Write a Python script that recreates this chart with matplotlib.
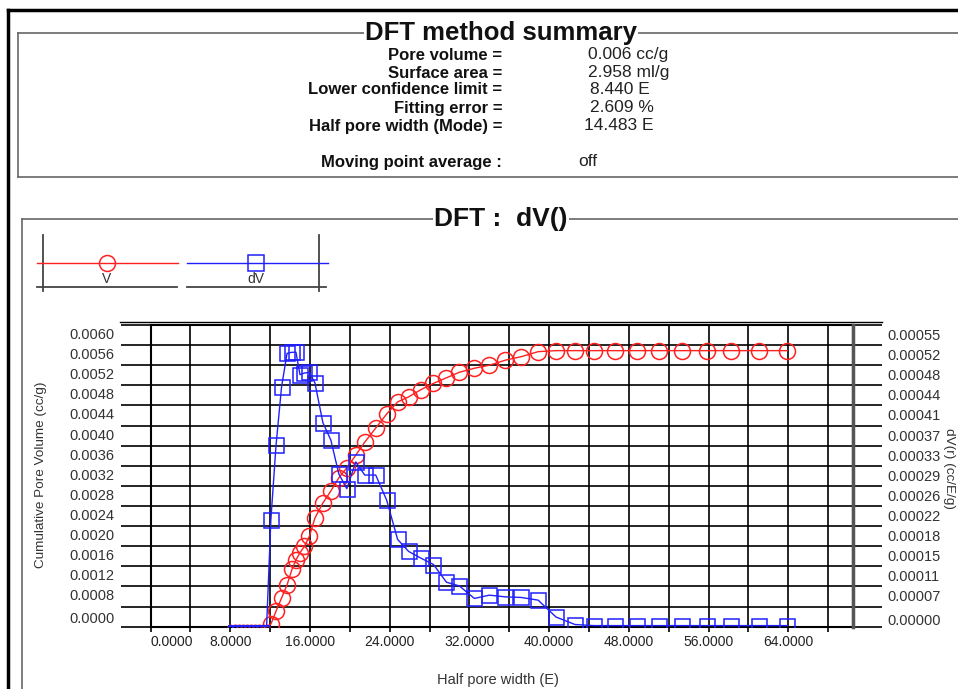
import matplotlib
matplotlib.use("Agg")
import matplotlib.pyplot as plt
import numpy as np
from matplotlib.lines import Line2D
from matplotlib.transforms import ScaledTranslation, blended_transform_factory

plt.rcParams['font.family'] = ['Liberation Sans', 'DejaVu Sans']

W, H = 958, 689

# summary block
summary_labels = ["Pore volume =", "Surface area =", "Lower confidence limit =",
                  "Fitting error =", "Half pore width (Mode) =", "Moving point average :"]
summary_values = ["0.006 cc/g", "2.958 ml/g", "8.440 E", "2.609 %", "14.483 E", "off"]

# densely packed points below the lower confidence limit
cluster_x = [8.0, 8.45, 8.9, 9.3, 9.7, 10.1, 10.5, 10.9, 11.3, 11.65]
cluster_v = [0.0, 0.0, 0.0, 0.0, 0.0, 0.0, 0.0, 0.0, 0.0, 0.0]
cluster_dv = [0.0, 0.0, 0.0, 0.0, 0.0, 0.0, 0.0, 0.0, 0.0, 0.0]

# half pore width (E)
width_x = [12.08, 12.6, 13.15, 13.7, 14.2, 14.6, 15.0, 15.45, 15.95, 16.5,
           17.3, 18.1, 18.9, 19.7, 20.6, 21.5, 22.6, 23.7, 24.8, 25.9,
           27.1, 28.4, 29.7, 31.0, 32.5, 34.0, 35.6, 37.2, 38.9, 40.7,
           42.6, 44.5, 46.6, 48.8, 51.0, 53.3, 55.8, 58.3, 61.1, 63.9]
# cumulative pore volume (cc/g)
cum_v = [0.00005, 0.00031, 0.00057, 0.00083, 0.00114, 0.00133, 0.00147, 0.00160, 0.00180, 0.00216,
         0.00246, 0.00270, 0.00296, 0.00316, 0.00341, 0.00367, 0.00395, 0.00423, 0.00447, 0.00457,
         0.00471, 0.00484, 0.00495, 0.00506, 0.00514, 0.00520, 0.00530, 0.00537, 0.00547, 0.00549,
         0.00549, 0.00549, 0.00549, 0.00549, 0.00549, 0.00549, 0.00549, 0.00549, 0.00549, 0.00549]
# dV(r) (cc/E/g)
dv = [0.000196, 0.000333, 0.000439, 0.000501, 0.000503, 0.000503, 0.000462, 0.000465, 0.000466, 0.000447,
      0.000374, 0.000342, 0.000280, 0.000253, 0.000302, 0.000278, 0.000278, 0.000232, 0.000160, 0.000138,
      0.000126, 0.000114, 0.0000815, 0.0000747, 0.0000518, 0.0000578, 0.0000547, 0.0000536, 0.0000487, 0.0000177,
      0.000004, 0.000002, 0.000002, 0.000002, 0.000002, 0.000002, 0.000002, 0.000002, 0.000002, 0.000002]

x_ticks = [0, 4, 8, 12, 16, 20, 24, 28, 32, 36, 40, 44, 48, 52, 56, 60, 64, 68]
x_labels = ["0.0000", "", "8.0000", "", "16.0000", "", "24.0000", "", "32.0000", "",
            "40.0000", "", "48.0000", "", "56.0000", "", "64.0000", ""]
v_labels = ["0.0000", "", "0.0008", "0.0012", "0.0016", "0.0020", "0.0024", "0.0028",
            "0.0032", "0.0036", "0.0040", "0.0044", "0.0048", "0.0052", "0.0056", "0.0060"]
dv_labels = ["0.00000", "", "0.00007", "0.00011", "0.00015", "0.00018", "0.00022", "0.00026",
             "0.00029", "0.00033", "0.00037", "0.00041", "0.00044", "0.00048", "0.00052", "0.00055"]
v_max = 0.006
dv_max = 0.000553

RED = '#ff2020'
BLUE = '#2020ff'


def fx(x):
    return x / W


def fy(y):
    return 1 - y / H


fig = plt.figure(figsize=(W / 100, H / 100), dpi=100)


def fline(xs, ys, **kw):
    fig.add_artist(Line2D([fx(x) for x in xs], [fy(y) for y in ys],
                          transform=fig.transFigure, **kw))


# outer black frame
fline([8, W], [10, 10], color='black', lw=2.5)
fline([8, 8], [10, H], color='black', lw=2.5)

# summary box
fline([18, W], [33, 33], color='#666666', lw=1.2)
fline([18, 18], [33, 177], color='#666666', lw=1.2)
fline([18, W], [177, 177], color='#666666', lw=1.2)
fig.text(fx(501), fy(33), "DFT method summary", ha='center', va='center',
         fontsize=18.5, fontweight='bold', color='#111111',
         bbox=dict(facecolor='white', edgecolor='none', pad=1))
label_y = [55, 73, 90, 108, 126, 162]
value_x = [588, 588, 590, 590, 584, 578]
for lab, val, y, vx in zip(summary_labels, summary_values, label_y, value_x):
    fig.text(fx(502), fy(y), lab, ha='right', va='center', fontsize=12,
             fontweight='bold', color='#111111')
    fig.text(fx(vx), fy(y), val, ha='left', va='center', fontsize=12.5, color='#222222')

# chart box
fline([22, W], [219, 219], color='#666666', lw=1.2)
fline([22, 22], [219, H], color='#666666', lw=1.2)
fig.text(fx(501), fy(219), "DFT :  dV()", ha='center', va='center',
         fontsize=19, fontweight='bold', color='#111111',
         bbox=dict(facecolor='white', edgecolor='none', pad=1))

# legend
fline([43.3, 43.3], [235, 290.7], color='#444444', lw=1.3)
fline([319.3, 319.3], [235, 290.7], color='#444444', lw=1.3)
fline([36.7, 178.3], [262.7, 262.7], color=RED, lw=1)
fline([186.7, 328.3], [262.7, 262.7], color=BLUE, lw=1)
fline([106.7], [262.7], color=RED, marker='o', ms=11.5, mfc='none', mew=1.1, ls='none')
fline([256], [262.7], color=BLUE, marker='s', ms=11, mfc='none', mew=1.1, ls='none')
fline([37.3, 176.7], [287.3, 287.3], color='#444444', lw=1.3)
fline([187.3, 326], [287.3, 287.3], color='#444444', lw=1.3)
fig.text(fx(106.7), fy(279), "V", ha='center', va='center', fontsize=10, color='#333333')
fig.text(fx(256), fy(279), "dV", ha='center', va='center', fontsize=10, color='#333333')

# main axes
left, right, bottom, top = 150.5, 853, 626.7, 325
ax = fig.add_axes([fx(left), fy(bottom), fx(right - left), (bottom - top) / H])
ax2 = ax.twinx()

ax.set_xlim(0, 70.5)
ax.set_ylim(0, v_max)
ax2.set_ylim(0, dv_max)

ax.set_xticks(x_ticks)
ax.set_xticklabels(x_labels)
ax.get_xticklabels()[0].set_horizontalalignment('left')
ax.tick_params(axis='x', length=3.6, width=1.2, direction='out', pad=2.4,
               labelsize=10, labelcolor='#222222')

v_ticks = np.linspace(0, v_max, 16)
dv_ticks = np.linspace(0, dv_max, 16)
ax.set_yticks(v_ticks)
ax.set_yticklabels([])
ax2.set_yticks(dv_ticks)
ax2.set_yticklabels([])
ax.tick_params(axis='y', length=21.6, width=1.2, direction='out', color='black')
ax2.tick_params(axis='y', length=21, width=1.2, direction='out', color='black')

ax.grid(True, color='black', linewidth=1.2)
ax.set_axisbelow(True)

for sp in ax.spines.values():
    sp.set_linewidth(1.5)
for sp in ax2.spines.values():
    sp.set_visible(False)
ax2.spines['right'].set_visible(True)
ax2.spines['right'].set_linewidth(2.5)
ax2.spines['right'].set_color('#555555')

# y tick labels, sitting below their lines like the original
left_tr = blended_transform_factory(ax.transAxes, ax.transData)
right_tr = blended_transform_factory(ax2.transAxes, ax2.transData)
for i, (t, lab) in enumerate(zip(v_ticks, v_labels)):
    dy = 7.7 if i == 0 else -10
    off = ScaledTranslation(-36 / 100, dy / 100, fig.dpi_scale_trans)
    ax.text(0, t, lab, transform=left_tr + off, ha='right', va='center',
            fontsize=10.5, color='#333333', clip_on=False)
for i, (t, lab) in enumerate(zip(dv_ticks, dv_labels)):
    dy = 6 if i == 0 else -11
    off = ScaledTranslation(34 / 100, dy / 100, fig.dpi_scale_trans)
    ax2.text(1, t, lab, transform=right_tr + off, ha='left', va='center',
             fontsize=10.5, color='#333333', clip_on=False)

# double line on top
fline([120, 882], [322, 322], color='black', lw=1)

# data
all_x = cluster_x + width_x
ax.plot(all_x, cluster_v + cum_v, color=RED, lw=1, zorder=3)
ax.plot(cluster_x, cluster_v, ls='none', marker='o', ms=3.5, mfc='none', mec=RED, mew=0.8, zorder=3)
ax.plot(width_x, cum_v, ls='none', marker='o', ms=11.5, mfc='none', mec=RED, mew=1.1, zorder=3)

ax2.plot(all_x, cluster_dv + dv, color=BLUE, lw=1, zorder=3)
ax2.plot(cluster_x, cluster_dv, ls='none', marker='s', ms=3.5, mfc='none', mec=BLUE, mew=0.8, zorder=3)
ax2.plot(width_x, dv, ls='none', marker='s', ms=10.8, mfc='none', mec=BLUE, mew=1.1, zorder=3)

# axis titles
fig.text(fx(41), fy(475), "Cumulative Pore Volume (cc/g)", rotation=90, ha='center', va='center',
         fontsize=9.7, color='#333333')
fig.text(fx(949), fy(468), "dV(r) (cc/E/g)", rotation=270, ha='center', va='center',
         fontsize=9.7, color='#333333')
fig.text(fx(498), fy(680), "Half pore width (E)", ha='center', va='center',
         fontsize=10.5, color='#333333')

fig.savefig("out.png", dpi=100)
